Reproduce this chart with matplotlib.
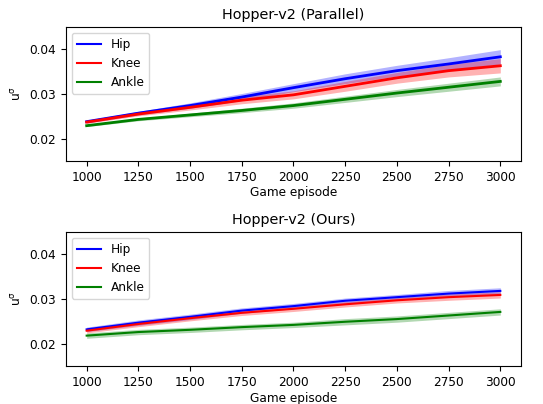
import numpy as np
import matplotlib
matplotlib.use("Agg")
import matplotlib.pyplot as plt

episodes = [1000, 1250, 1500, 1750, 2000, 2250, 2500, 2750, 3000]

# Top panel: Hopper-v2 (Parallel)
par_hip = [0.0238, 0.0257, 0.0274, 0.0293, 0.0314, 0.0334, 0.0352, 0.0367, 0.0383]
par_knee = [0.0237, 0.0255, 0.0270, 0.0286, 0.0298, 0.0317, 0.0336, 0.0352, 0.0363]
par_ankle = [0.0229, 0.0243, 0.0253, 0.0263, 0.0274, 0.0288, 0.0302, 0.0315, 0.0328]
par_hip_sd = [0.0003, 0.0004, 0.0006, 0.0008, 0.0009, 0.0011, 0.0012, 0.0014, 0.0016]
par_knee_sd = [0.0003, 0.0004, 0.0006, 0.0008, 0.0009, 0.0011, 0.0012, 0.0014, 0.0016]
par_ankle_sd = [0.0002, 0.0003, 0.0004, 0.0005, 0.0006, 0.0007, 0.0008, 0.0009, 0.0010]

# Bottom panel: Hopper-v2 (Ours)
our_hip = [0.0232, 0.0247, 0.0260, 0.0274, 0.0284, 0.0296, 0.0304, 0.0312, 0.0318]
our_knee = [0.0229, 0.0244, 0.0257, 0.0269, 0.0278, 0.0288, 0.0297, 0.0304, 0.0309]
our_ankle = [0.0218, 0.0226, 0.0231, 0.0237, 0.0242, 0.0249, 0.0255, 0.0263, 0.0271]
our_hip_sd = [0.0005, 0.0006, 0.0006, 0.0006, 0.0006, 0.0006, 0.0006, 0.0007, 0.0007]
our_knee_sd = [0.0005, 0.0006, 0.0006, 0.0006, 0.0006, 0.0006, 0.0006, 0.0007, 0.0007]
our_ankle_sd = [0.0006, 0.0006, 0.0006, 0.0006, 0.0006, 0.0007, 0.0007, 0.0007, 0.0007]

labels = ["Hip", "Knee", "Ankle"]
colors = ["blue", "red", "green"]
titles = ["Hopper-v2 (Parallel)", "Hopper-v2 (Ours)"]
xticks = [1000, 1250, 1500, 1750, 2000, 2250, 2500, 2750, 3000]
yticks = [0.02, 0.03, 0.04]

fs = 8.7
plt.rcParams.update({
    "font.size": fs,
    "xtick.labelsize": fs,
    "ytick.labelsize": fs,
    "axes.labelsize": fs,
    "legend.fontsize": fs,
})

fig = plt.figure(figsize=(5.43, 4.04), dpi=100)
ax1 = fig.add_axes([0.1215, 0.6015, 0.838, 0.332])
ax2 = fig.add_axes([0.1215, 0.094, 0.838, 0.332])

panels = [
    (ax1, [par_hip, par_knee, par_ankle], [par_hip_sd, par_knee_sd, par_ankle_sd], 2.0),
    (ax2, [our_hip, our_knee, our_ankle], [our_hip_sd, our_knee_sd, our_ankle_sd], 1.5),
]
x = np.array(episodes)
for (ax, means, sds, lw), title in zip(panels, titles):
    handles = []
    for m, s, c, l in zip(means, sds, colors, labels):
        m = np.array(m); s = np.array(s)
        ax.fill_between(x, m - s, m + s, color=c, alpha=0.3, linewidth=0)
        ax.plot(x, m, color=c, lw=lw)
        handles.append(plt.Line2D([], [], color=c, lw=1.5, label=l))
    ax.set_title(title, fontsize=10.4)
    ax.set_xlim(900, 3100)
    ax.set_ylim(0.015, 0.045)
    ax.set_xticks(xticks)
    ax.set_yticks(yticks)
    ax.set_xlabel("Game episode", labelpad=2)
    ax.set_ylabel(r"$\mathregular{u^{\sigma}}$")
    ax.legend(handles=handles, loc="upper left")

fig.savefig("out.png", dpi=100)
